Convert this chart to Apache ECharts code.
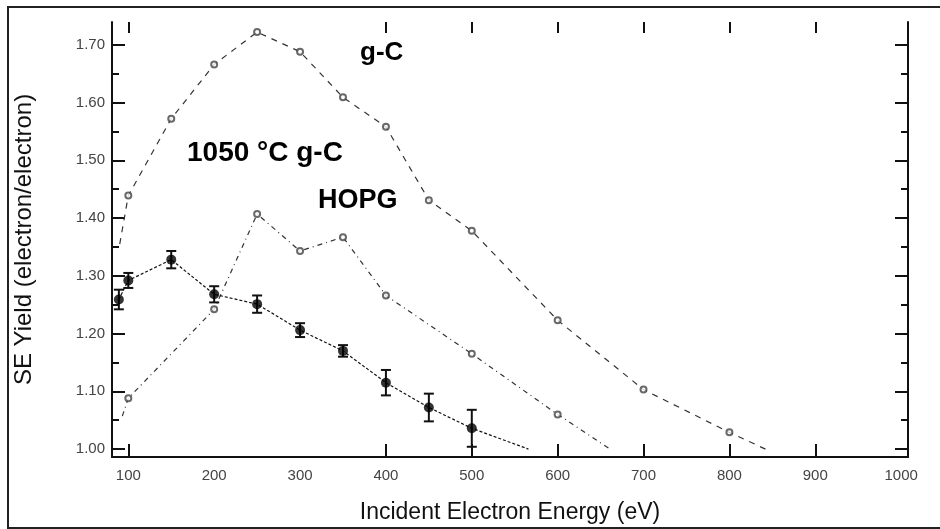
<!DOCTYPE html>
<html>
<head>
<meta charset="utf-8">
<script src="https://cdn.jsdelivr.net/npm/echarts@6/dist/echarts.min.js"></script>
<style>
html,body{margin:0;padding:0;background:#fff;}
#chart{width:940px;height:529px;}
</style>
</head>
<body>
<div id="chart"></div>
<script>
// ---- data ----
var xTickLabels = [100, 200, 300, 400, 500, 600, 700, 800, 900, 1000];
var xTickMarks = [100, 400, 500, 600, 700, 800, 900];
var yTickLabels = [1.00, 1.10, 1.20, 1.30, 1.40, 1.50, 1.60, 1.70];
var yMinorTicks = [1.05, 1.15, 1.25, 1.35, 1.45, 1.55, 1.65];

// g-C (dashed, open circles)
var gcLineX = [90, 100, 150, 200, 250, 300, 350, 400, 450, 500, 600, 700, 800, 842];
var gcLineY = [1.355, 1.439, 1.572, 1.666, 1.722, 1.688, 1.609, 1.558, 1.431, 1.378, 1.223, 1.103, 1.029, 1.000];
var gcMarkX = [100, 150, 200, 250, 300, 350, 400, 450, 500, 600, 700, 800];
var gcMarkY = [1.439, 1.572, 1.666, 1.722, 1.688, 1.609, 1.558, 1.431, 1.378, 1.223, 1.103, 1.029];

// HOPG (dash-dot, open circles)
var hopgLineX = [93, 100, 200, 250, 300, 350, 400, 500, 600, 661];
var hopgLineY = [1.057, 1.088, 1.242, 1.407, 1.343, 1.367, 1.266, 1.165, 1.060, 1.000];
var hopgMarkX = [100, 200, 250, 300, 350, 400, 500, 600];
var hopgMarkY = [1.088, 1.242, 1.407, 1.343, 1.367, 1.266, 1.165, 1.060];

// 1050 °C g-C (dotted, filled markers with error bars)
var htLineX = [89, 100, 150, 200, 250, 300, 350, 400, 450, 500, 566];
var htLineY = [1.259, 1.292, 1.328, 1.268, 1.251, 1.206, 1.170, 1.115, 1.072, 1.036, 1.000];
var htMarkX = [89, 100, 150, 200, 250, 300, 350, 400, 450, 500];
var htMarkY = [1.259, 1.292, 1.328, 1.268, 1.251, 1.206, 1.170, 1.115, 1.072, 1.036];
var htErr   = [0.017, 0.013, 0.015, 0.014, 0.015, 0.012, 0.010, 0.022, 0.024, 0.032];

var annotations = ['g-C', '1050 \u00B0C g-C', 'HOPG'];
var xTitle = 'Incident Electron Energy (eV)';
var yTitle = 'SE Yield (electron/electron)';

function zip(a, b) { return a.map(function (v, i) { return [v, b[i]]; }); }

var chart = echarts.init(document.getElementById('chart'), null, {renderer: 'canvas'});
var FONT = '"Liberation Sans", Arial, sans-serif';
var axisColor = '#111';

var option = {
  backgroundColor: '#fff',
  animation: false,
  grid: {left: 112, right: 32, top: 22, bottom: 68, containLabel: false},
  xAxis: [{
    type: 'value', min: 81, max: 1008, position: 'bottom',
    name: xTitle, nameLocation: 'middle', nameGap: 44,
    nameTextStyle: {fontFamily: FONT, fontSize: 23, color: '#111'},
    axisLine: {show: true, lineStyle: {color: axisColor, width: 2}},
    axisTick: {show: true, inside: true, length: 13, customValues: xTickMarks, lineStyle: {color: axisColor, width: 2}},
    axisLabel: {show: true, customValues: xTickLabels, margin: 11, fontFamily: FONT, fontSize: 15, color: '#444',
      formatter: function (v) { return String(v); }},
    splitLine: {show: false}
  }, {
    type: 'value', min: 81, max: 1008, position: 'top',
    axisLine: {show: false},
    axisTick: {show: true, inside: true, length: 11, customValues: xTickMarks, lineStyle: {color: axisColor, width: 2}},
    axisLabel: {show: false},
    splitLine: {show: false}
  }],
  yAxis: [{
    type: 'value', min: 0.9863, max: 1.7395, position: 'left',
    name: yTitle, nameLocation: 'middle', nameGap: 76, nameRotate: 90,
    nameTextStyle: {fontFamily: FONT, fontSize: 24, color: '#111'},
    axisLine: {show: true, lineStyle: {color: axisColor, width: 2}},
    axisTick: {show: true, inside: true, length: 13, customValues: yTickLabels, lineStyle: {color: axisColor, width: 2}},
    axisLabel: {show: true, customValues: yTickLabels, margin: 7, fontFamily: FONT, fontSize: 15, color: '#444',
      formatter: function (v) { return v.toFixed(2); }},
    splitLine: {show: false}
  }, {
    type: 'value', min: 0.9863, max: 1.7395, position: 'left',
    axisLine: {show: false},
    axisTick: {show: true, inside: true, length: 7, customValues: yMinorTicks, lineStyle: {color: axisColor, width: 2}},
    axisLabel: {show: false}, splitLine: {show: false}
  }, {
    type: 'value', min: 0.9863, max: 1.7395, position: 'right',
    axisLine: {show: true, lineStyle: {color: axisColor, width: 2}},
    axisTick: {show: true, inside: true, length: 13, customValues: yTickLabels, lineStyle: {color: axisColor, width: 2}},
    axisLabel: {show: false}, splitLine: {show: false}
  }, {
    type: 'value', min: 0.9863, max: 1.7395, position: 'right',
    axisLine: {show: false},
    axisTick: {show: true, inside: true, length: 7, customValues: yMinorTicks, lineStyle: {color: axisColor, width: 2}},
    axisLabel: {show: false}, splitLine: {show: false}
  }],
  series: [
    {type: 'line', data: zip(gcLineX, gcLineY), showSymbol: false, symbol: 'none',
      lineStyle: {color: '#333', width: 1.2, type: [6, 6]}, z: 2},
    {type: 'scatter', data: zip(gcMarkX, gcMarkY), symbol: 'emptyCircle', symbolSize: 6,
      itemStyle: {color: '#444', borderColor: '#444', borderWidth: 1}, z: 3},
    {type: 'line', data: zip(hopgLineX, hopgLineY), showSymbol: false, symbol: 'none',
      lineStyle: {color: '#333', width: 1.2, type: [5, 4, 1, 4]}, z: 2},
    {type: 'scatter', data: zip(hopgMarkX, hopgMarkY), symbol: 'emptyCircle', symbolSize: 6,
      itemStyle: {color: '#444', borderColor: '#444', borderWidth: 1}, z: 3},
    {type: 'line', data: zip(htLineX, htLineY), showSymbol: false, symbol: 'none',
      lineStyle: {color: '#111', width: 1.2, type: [3, 2]}, z: 2},
    {type: 'custom', clip: true, z: 4,
      data: htMarkX.map(function (x, i) { return [x, htMarkY[i], htErr[i]]; }),
      renderItem: function (params, api) {
        var x = api.value(0), y = api.value(1), e = api.value(2);
        var lo = api.coord([x, y - e]);
        var hi = api.coord([x, y + e]);
        var cw = 5;
        var style = {stroke: '#111', lineWidth: 2};
        return {type: 'group', children: [
          {type: 'line', shape: {x1: lo[0], y1: lo[1], x2: hi[0], y2: hi[1]}, style: style},
          {type: 'line', shape: {x1: lo[0] - cw, y1: lo[1], x2: lo[0] + cw, y2: lo[1]}, style: style},
          {type: 'line', shape: {x1: hi[0] - cw, y1: hi[1], x2: hi[0] + cw, y2: hi[1]}, style: style}
        ]};
      }},
    {type: 'scatter', data: zip(htMarkX, htMarkY), symbol: 'circle', symbolSize: 10,
      itemStyle: {color: '#000'}, z: 5}
  ],
  graphic: [
    {type: 'rect', shape: {x: 8, y: 7, width: 940, height: 521},
      style: {fill: null, stroke: '#222', lineWidth: 2}, z: 0, silent: true},
    {type: 'text', left: 360, top: 40, style: {text: annotations[0], font: 'bold 26px ' + FONT, fill: '#000'}},
    {type: 'text', left: 187, top: 139, style: {text: annotations[1], font: 'bold 28px ' + FONT, fill: '#000'}},
    {type: 'text', left: 318, top: 187, style: {text: annotations[2], font: 'bold 27px ' + FONT, fill: '#000'}}
  ]
};
chart.setOption(option);
</script>
</body>
</html>
